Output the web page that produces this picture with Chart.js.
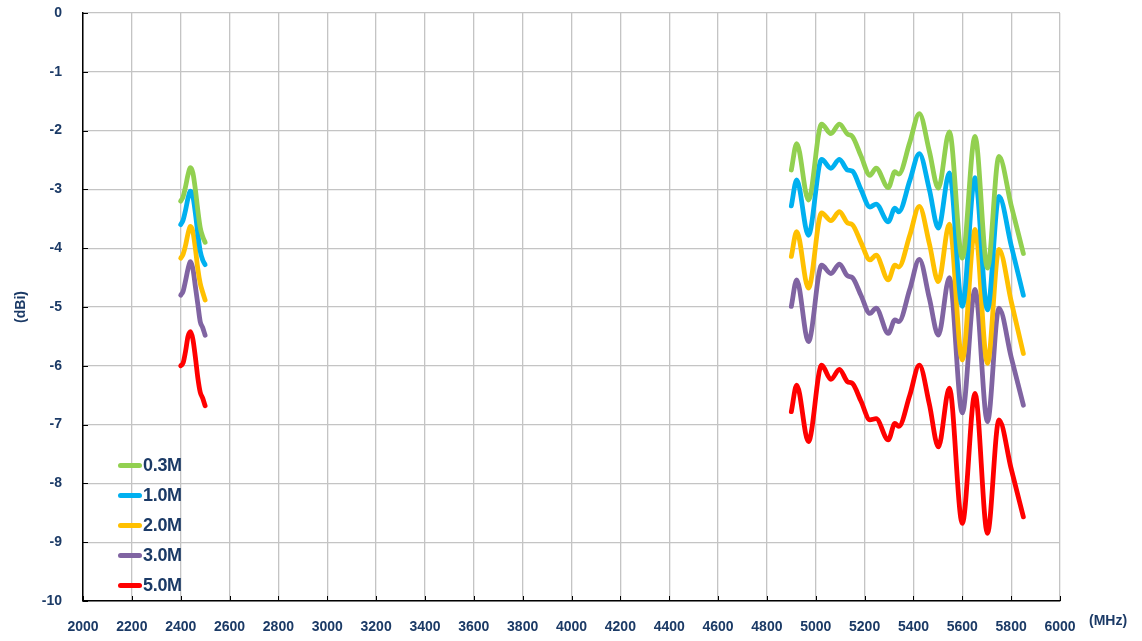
<!DOCTYPE html>
<html>
<head>
<meta charset="utf-8">
<script src="https://cdn.jsdelivr.net/npm/chart.js@4.4.0/dist/chart.umd.min.js"></script>
<style>
  body { margin: 0; background: #fff; }
  #wrap { position: relative; width: 1142px; height: 641px; }
  #legend { position: absolute; left: 118px; top: 451px; font: bold 18px "Liberation Sans", Arial, sans-serif; color: #1b3a66; letter-spacing: -0.3px; }
  #legend .row { height: 29.9px; display: flex; align-items: center; }
  #legend .swatch { width: 24px; height: 5px; border-radius: 3px; margin-right: 1px; }
  #xunit { position: absolute; left: 1089px; top: 612px; font: bold 14px "Liberation Sans", Arial, sans-serif; color: #1b3a66; }
</style>
</head>
<body>
<div id="wrap">
  <canvas id="myChart"></canvas>
  <div id="legend"></div>
  <div id="xunit">(MHz)</div>
</div>
<script>
// frequencies (MHz)
var freqLow = [2400, 2410, 2420, 2430, 2440, 2450, 2460, 2470, 2480, 2490, 2500];
var freqHigh = [4900, 4922, 4970, 5024, 5062, 5097, 5130, 5150, 5185, 5222, 5247, 5297, 5324,
    5340, 5385, 5424, 5465, 5502, 5547, 5600, 5652, 5703, 5750, 5800, 5850];

// gain (dBi) per distance
var labels = ['0.3M', '1.0M', '2.0M', '3.0M', '5.0M'];
var colors = ['#92d050', '#00b0f0', '#ffc000', '#8064a2', '#ff0000'];

var g03Low = [-3.2, -3.12, -2.95, -2.75, -2.63, -2.72, -3.0, -3.35, -3.65, -3.8, -3.9];
var g10Low = [-3.6, -3.52, -3.35, -3.15, -3.03, -3.12, -3.4, -3.75, -4.05, -4.2, -4.28];
var g20Low = [-4.17, -4.1, -3.95, -3.75, -3.63, -3.72, -4.0, -4.35, -4.6, -4.75, -4.88];
var g30Low = [-4.8, -4.73, -4.55, -4.35, -4.23, -4.35, -4.65, -4.95, -5.25, -5.35, -5.48];
var g50Low = [-6.0, -5.95, -5.75, -5.5, -5.42, -5.55, -5.85, -6.2, -6.45, -6.55, -6.68];

var g03High = [-2.67, -2.22, -3.18, -1.89, -2.05, -1.89, -2.06, -2.1, -2.43, -2.76, -2.64, -2.97, -2.7,
    -2.74, -2.2, -1.71, -2.35, -2.98, -2.02, -4.17, -2.1, -4.34, -2.44, -3.27, -4.09];
var g10High = [-3.28, -2.84, -3.78, -2.49, -2.64, -2.49, -2.67, -2.69, -3.0, -3.3, -3.25, -3.55, -3.32,
    -3.38, -2.85, -2.39, -3.0, -3.66, -2.72, -4.99, -2.8, -5.05, -3.12, -3.95, -4.8];
var g20High = [-4.14, -3.72, -4.68, -3.4, -3.53, -3.38, -3.57, -3.6, -3.9, -4.2, -4.12, -4.54, -4.29,
    -4.32, -3.78, -3.29, -3.92, -4.57, -3.59, -5.9, -3.68, -5.96, -4.02, -4.9, -5.79];
var g30High = [-4.99, -4.54, -5.59, -4.29, -4.43, -4.27, -4.47, -4.5, -4.8, -5.11, -5.02, -5.45, -5.22,
    -5.25, -4.7, -4.19, -4.85, -5.48, -4.5, -6.8, -4.7, -6.95, -5.02, -5.85, -6.67];
var g50High = [-6.78, -6.33, -7.29, -5.99, -6.23, -6.06, -6.27, -6.3, -6.6, -6.92, -6.9, -7.26, -6.98,
    -7.03, -6.5, -5.99, -6.65, -7.38, -6.38, -8.68, -6.47, -8.85, -6.92, -7.75, -8.57];

var lowSets = [g03Low, g10Low, g20Low, g30Low, g50Low];
var highSets = [g03High, g10High, g20High, g30High, g50High];

var FONT = "'Liberation Sans', Arial, sans-serif";
var NAVY = '#1b3a66';

function buildPoints(low, high) {
    var pts = [];
    freqLow.forEach(function (f, i) { pts.push({ x: f, y: low[i] }); });
    pts.push({ x: 3700, y: null }); // break between bands
    freqHigh.forEach(function (f, i) { pts.push({ x: f, y: high[i] }); });
    return pts;
}

var datasets = labels.map(function (lbl, i) {
    return {
        label: lbl,
        data: buildPoints(lowSets[i], highSets[i]),
        borderColor: colors[i],
        backgroundColor: colors[i],
        borderWidth: 4.8,
        pointRadius: 0,
        cubicInterpolationMode: 'monotone',
        spanGaps: false,
        borderCapStyle: 'round',
        borderJoinStyle: 'round',
        fill: false
    };
});

// small inward tick marks on the axes
var axisTicks = {
    id: 'axisTicks',
    afterDraw: function (chart) {
        var c = chart.ctx, a = chart.chartArea;
        var xs = chart.scales.x, ys = chart.scales.y;
        c.save();
        c.strokeStyle = '#000';
        c.lineWidth = 1;
        xs.ticks.forEach(function (t) {
            var px = Math.round(xs.getPixelForValue(t.value)) + 0.5;
            c.beginPath(); c.moveTo(px, a.bottom); c.lineTo(px, a.bottom - 5); c.stroke();
        });
        ys.ticks.forEach(function (t) {
            var py = Math.round(ys.getPixelForValue(t.value)) + 0.5;
            c.beginPath(); c.moveTo(a.left, py); c.lineTo(a.left + 5, py); c.stroke();
        });
        c.restore();
    }
};

var ctx = document.getElementById('myChart').getContext('2d');
var myChart = new Chart(ctx, {
    type: 'line',
    data: { datasets: datasets },
    options: {
        responsive: true,
        maintainAspectRatio: false,
        animation: false,
        layout: { padding: { top: 13, right: 82, bottom: 0, left: 0 } },
        plugins: {
            legend: { display: false },
            tooltip: { enabled: false }
        },
        scales: {
            x: {
                type: 'linear',
                min: 2000,
                max: 6000,
                afterFit: function (s) { s.height = 40; s.paddingLeft = 0; s.paddingRight = 0; },
                ticks: {
                    stepSize: 200,
                    maxRotation: 0,
                    autoSkip: false,
                    padding: 18,
                    color: NAVY,
                    font: { family: FONT, size: 14, weight: 'bold' },
                    callback: function (v) { return String(v); }
                },
                grid: { color: '#c4c4c4', lineWidth: 1.3, drawTicks: false },
                border: { color: '#000', width: 1.5 }
            },
            y: {
                min: -10,
                max: 0,
                afterFit: function (s) { s.width = 83; s.paddingTop = 0; s.paddingBottom = 0; },
                ticks: {
                    stepSize: 1,
                    padding: 21,
                    color: NAVY,
                    font: { family: FONT, size: 14, weight: 'bold' },
                    callback: function (v) { return String(v); }
                },
                grid: { color: '#c4c4c4', lineWidth: 1.3, drawTicks: false },
                border: { color: '#000', width: 1.5 },
                title: {
                    display: true,
                    text: '(dBi)',
                    color: NAVY,
                    padding: { top: 13, bottom: 0 },
                    font: { family: FONT, size: 14, weight: 'bold' }
                }
            }
        }
    },
    plugins: [axisTicks]
});

// legend drawn as html, placed inside the plot area
var legendEl = document.getElementById('legend');
myChart.data.datasets.forEach(function (ds) {
    var row = document.createElement('div');
    row.className = 'row';
    var sw = document.createElement('span');
    sw.className = 'swatch';
    sw.style.background = ds.borderColor;
    var tx = document.createElement('span');
    tx.textContent = ds.label;
    row.appendChild(sw);
    row.appendChild(tx);
    legendEl.appendChild(row);
});
</script>
</body>
</html>
